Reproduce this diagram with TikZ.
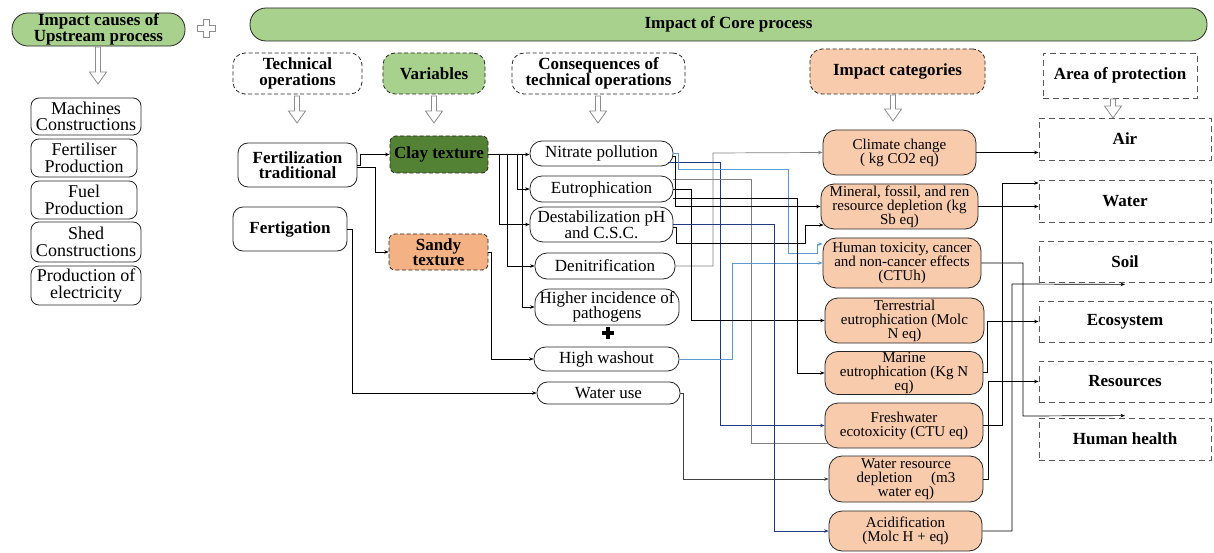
\documentclass[tikz,border=0pt]{standalone}
\usepackage{fontspec}
\setmainfont{Liberation Serif}
\newfontfamily\diagfont{Liberation Serif}
\usetikzlibrary{arrows.meta,calc}

\definecolor{lgreen}{HTML}{A9D18E}
\definecolor{dgreen}{HTML}{548235}
\definecolor{sand}{HTML}{F4B183}
\definecolor{peach}{HTML}{F8CBAD}
\definecolor{lgray}{HTML}{808080}
\definecolor{navy}{HTML}{1F3A80}
\definecolor{lblue}{HTML}{5B9BD5}
\definecolor{arrgray}{HTML}{8C8C8C}

% node from its corner coordinates: name, style, x1, y1, x2, y2, text
\newcommand{\placenode}[7]{%
  \pgfmathsetmacro\pnx{(#3+#5)/2}%
  \pgfmathsetmacro\pny{(#4+#6)/2}%
  \pgfmathsetmacro\pnw{#5-#3}%
  \pgfmathsetmacro\pnh{#6-#4}%
  \node[#2, minimum width=\pnw pt, minimum height=\pnh pt] (#1) at (\pnx,\pny) {#7};}

% hollow block arrow pointing down: x, top, tip
\newcommand{\hollowdown}[3]{%
  \draw[hollow] (#1-2.5,#2) -- (#1-2.5,#3-12) -- (#1-8.5,#3-12) -- (#1,#3)
    -- (#1+8.5,#3-12) -- (#1+2.5,#3-12) -- (#1+2.5,#2) -- cycle;}

\tikzset{
  base/.style={draw=black!85, line width=0.8pt, align=center, inner sep=1pt,
    text=black, font=\diagfont\fontsize{17pt}{15.5pt}\selectfont},
  boldbase/.style={base, font=\diagfont\fontsize{17pt}{15.5pt}\selectfont\bfseries},
  upbox/.style={base, rounded corners=8pt, font=\diagfont\fontsize{18pt}{16.5pt}\selectfont},
  hdr/.style={boldbase, dash pattern=on 4pt off 2.5pt, rounded corners=12pt},
  aopbox/.style={boldbase, draw=black!65, dash pattern=on 6pt off 4pt},
  cat/.style={base, fill=peach, rounded corners=13pt, font=\diagfont\fontsize{15pt}{14pt}\selectfont},
  conbox/.style={base},
  opbox/.style={boldbase, rounded corners=10pt},
  hollow/.style={draw=arrgray, fill=white, line width=0.8pt, line join=miter},
  conn/.style={draw, line width=0.7pt, -{Stealth[length=4.5pt,width=3.5pt]}},
  plain/.style={draw, line width=0.7pt},
}

\begin{document}
\begin{tikzpicture}[x=1pt,y=-1pt]
\fill[white] (0,0) rectangle (1214,553);
\useasboundingbox (0,0) rectangle (1214,553);

% ---- title bars ----
\placenode{ups}{boldbase, fill=lgreen, rounded corners=16pt}{12}{13}{185}{46}{Impact causes of\\Upstream process}
\placenode{core}{boldbase, fill=lgreen, rounded corners=16pt}{250}{8}{1207}{41}{Impact of Core process}

% gray plus between the two bars
\draw[hollow, fill=white] (203,19) -- (209,19) -- (209,25) -- (215,25) -- (215,31) -- (209,31)
  -- (209,37) -- (203,37) -- (203,31) -- (197,31) -- (197,25) -- (203,25) -- cycle;

% ---- upstream causes ----
\placenode{m1}{upbox}{31}{98}{141}{135}{Machines\\Constructions}
\placenode{m2}{upbox}{31}{139}{137}{177}{Fertiliser\\Production}
\placenode{m3}{upbox}{31}{181}{137}{219}{Fuel\\Production}
\placenode{m4}{upbox}{31}{222}{141}{262}{Shed\\Constructions}
\placenode{m5}{upbox}{31}{266}{141}{305}{Production of\\electricity}

% ---- column headers ----
\placenode{tech}{hdr}{233}{53}{362}{94}{Technical\\operations}
\placenode{var}{hdr, fill=lgreen}{383}{53}{485}{94}{Variables}
\placenode{cons}{hdr}{512}{53}{685}{94}{Consequences of\\technical operations}
\placenode{ic}{hdr, fill=peach}{810}{49}{985}{94}{Impact categories}
\placenode{aop}{aopbox}{1043}{53}{1197}{98}{Area of protection}

\hollowdown{98}{47}{84}
\hollowdown{297}{96}{123}
\hollowdown{434}{96}{123}
\hollowdown{598}{96}{123}
\hollowdown{893}{95}{121}
\hollowdown{1113}{99}{118}

% ---- technical operations ----
\placenode{fert}{opbox}{238}{143}{357}{187}{Fertilization\\traditional}
\placenode{ferti}{opbox}{233}{207}{347}{251}{Fertigation}

% ---- variables ----
\placenode{clay}{boldbase, fill=dgreen, rounded corners=6pt, dash pattern=on 4pt off 2.5pt}{390}{136}{488}{173}{Clay texture}
\placenode{sandy}{boldbase, fill=sand, rounded corners=6pt, dash pattern=on 4pt off 2.5pt}{389}{234}{488}{270}{Sandy\\texture}

% ---- consequences ----
\placenode{nit}{conbox, rounded corners=12pt}{530}{141}{673}{166}{Nitrate pollution}
\placenode{eut}{conbox, rounded corners=12pt}{530}{176}{673}{202}{Eutrophication}
\placenode{destab}{conbox, rounded corners=13pt}{530}{207}{673}{242}{Destabilization pH\\and C.S.C.}
\placenode{denit}{conbox, rounded corners=12pt}{535}{253}{675}{279}{Denitrification}
\placenode{hi}{conbox, rounded corners=14pt}{535}{289}{679}{325}{Higher incidence of\\pathogens}
\placenode{hw}{conbox, rounded corners=11.5pt}{534}{347}{679}{371}{High washout}
\placenode{wuse}{conbox, rounded corners=10.5pt}{537}{382}{680}{404}{Water use}

% black plus
\fill[black] (606,327) rectangle (610,339);
\fill[black] (602,331) rectangle (614,335);

% ---- impact categories ----
\placenode{cc}{cat}{823}{130}{976}{175}{Climate change\\( kg CO2 eq)}
\placenode{mr}{cat}{821}{184}{978}{229}{Mineral, fossil, and ren\\resource depletion (kg\\Sb eq)}
\placenode{ht}{cat}{823}{238}{981}{288}{Human toxicity, cancer\\and non-cancer effects\\(CTUh)}
\placenode{te}{cat}{825}{298}{984}{343}{Terrestrial\\eutrophication (Molc\\N eq)}
\placenode{me}{cat}{825}{353}{983}{393}{Marine\\eutrophication (Kg N\\eq)}
\placenode{fw}{cat}{825}{403}{983}{448}{Freshwater\\ecotoxicity (CTU eq)}
\placenode{wr}{cat}{829}{456}{983}{502}{Water resource\\depletion \quad(m3\\water eq)}
\placenode{ac}{cat}{829}{511}{982}{551}{Acidification\\(Molc H + eq)}

% ---- areas of protection ----
\placenode{air}{aopbox}{1039}{118}{1211}{160}{Air}
\placenode{water}{aopbox}{1039}{180}{1211}{222}{Water}
\placenode{soil}{aopbox}{1039}{241}{1211}{282}{Soil}
\placenode{eco}{aopbox}{1039}{301}{1211}{342}{Ecosystem}
\placenode{res}{aopbox}{1039}{361}{1211}{402}{Resources}
\placenode{hh}{aopbox}{1039}{418}{1211}{460}{Human health}

% ---- operations to variables ----
\draw[conn] (fert.east) -- ++(3,0) |- (clay.west);
\draw[conn] ([yshift=-2pt]fert.east) -- ++(18,0) |- (sandy.west);
\draw[conn] (ferti.east) -- ++(5,0) |- (wuse.west);
\draw[conn] (sandy.east) -- ++(3,0) |- (hw.west);

% ---- clay texture to its consequences ----
\draw[conn, line width=1.5pt] (clay.east) -- (clay.east -| nit.west);
\draw[conn] ([xshift=29pt]clay.east) |- (eut.west);
\draw[conn] ([xshift=11pt]clay.east) |- (destab.west);
\draw[conn] ([xshift=19pt]clay.east) |- (denit.west);
\draw[conn] ([xshift=34pt]clay.east) |- (hi.west);

% ---- consequences to impact categories ----
\draw[conn, lgray] (denit.east) -| (713,153) -- (cc.west);
\draw[conn, navy] ([xshift=-5pt,yshift=-8.5pt]nit.east) -| (720,425.5) -- (fw.west);
\draw[conn, lblue] (nit.east) -- ++(5,0) |- (788,169) |- (817,253) |- ([yshift=19pt]ht.west);
\draw[conn, lblue] (hw.east) -| (732,263) -- (ht.west);
\draw[plain, lgray] ([yshift=10pt]eut.east) -| (751,443) -- ([xshift=4pt,yshift=-17.5pt]fw.west);
\draw[conn] (eut.east) -| (691,320.5) -- (te.west);
\draw[conn] ([yshift=-9pt]eut.east) -| (797,373) -- (me.west);
\draw[conn] ([yshift=-3pt]nit.east) -| (675,206.5) -- (mr.west);
\draw[conn] ([yshift=-3pt]destab.east) -| (676,243) -| (805,225) -- ([xshift=3pt,yshift=-18.5pt]mr.west);
\draw[conn, navy] (destab.east) -| (774,531) -- (ac.west);
\draw[conn, black!75] (wuse.east) -| (683,479) -- (wr.west);

% ---- impact categories to areas of protection ----
\draw[conn] (cc.east) -- (air.west |- cc.east);
\draw[conn] (mr.east) -- (water.west |- mr.east);
\draw[conn] (fw.east) -| (1002,183) -- ([yshift=18pt]water.west);
\draw[conn] (ht.east) -| (1023,416) -- ([yshift=2pt]hh.north);
\draw[conn] (ac.east) -| (1012,284) -- ([yshift=-2pt]soil.south);
\draw[conn] ([yshift=1pt]me.east) -| (987,321.5) -- (eco.west);
\draw[conn] (wr.east) -| (988,381.5) -- (res.west);
\end{tikzpicture}
\end{document}
